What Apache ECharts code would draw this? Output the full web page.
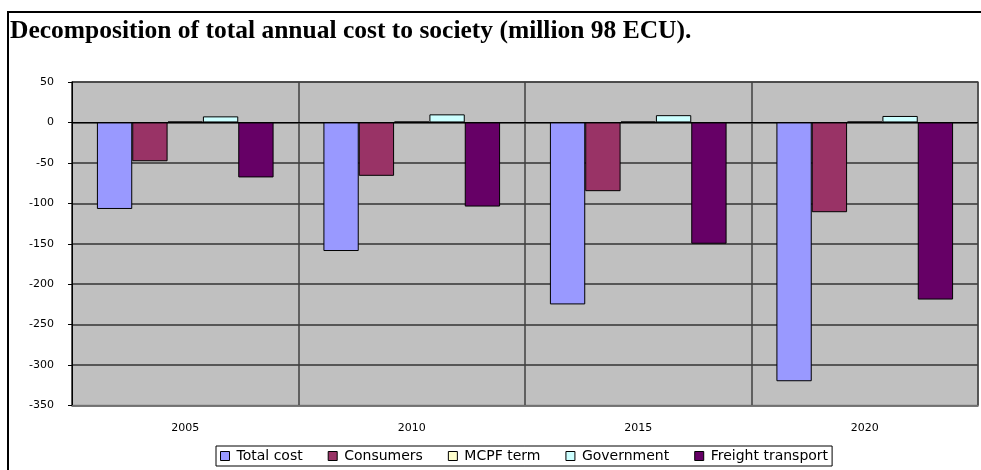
<!DOCTYPE html>
<html>
<head>
<meta charset="utf-8">
<script src="https://cdn.jsdelivr.net/npm/echarts@6/dist/echarts.min.js"></script>
<style>
  html, body { margin: 0; padding: 0; background: #ffffff; }
  #chart { width: 981px; height: 470px; }
</style>
</head>
<body>
<div id="chart"></div>
<script>
// Years on the category axis
const years = ['2005', '2010', '2015', '2020'];

// Components of the annual cost to society, million 98 ECU
const totalCost = [-107, -159, -225, -320];
const consumers = [-48, -66, -85, -111];
const mcpfTerm = [1, 1, 1, 1];
const government = [7.5, 10, 9, 8];
const freightTransport = [-68, -104, -150, -219];

// Value axis range
const yMin = -350;
const yMax = 50;
const yStep = 50;

const seriesDefs = [
  { name: 'Total cost', data: totalCost, color: '#9999ff' },
  { name: 'Consumers', data: consumers, color: '#993366' },
  { name: 'MCPF term', data: mcpfTerm, color: '#ffffcc' },
  { name: 'Government', data: government, color: '#ccffff' },
  { name: 'Freight transport', data: freightTransport, color: '#660066' }
];

const axisFont = 'DejaVu Sans, sans-serif';

const chart = echarts.init(document.getElementById('chart'), null, { renderer: 'canvas' });

const series = seriesDefs.map((s, i) => {
  const def = {
    name: s.name,
    type: 'bar',
    data: s.data,
    barGap: '0%',
    barCategoryGap: '22%',
    itemStyle: { color: s.color, borderColor: '#000000', borderWidth: 1 },
    emphasis: { disabled: true },
    animation: false
  };
  if (i === 0) {
    // black zero line across the plot
    def.markLine = {
      silent: true,
      symbol: 'none',
      label: { show: false },
      lineStyle: { color: '#000000', width: 1, type: 'solid' },
      data: [{ yAxis: 0 }]
    };
  }
  return def;
});

chart.setOption({
  animation: false,
  backgroundColor: '#ffffff',
  graphic: [{
    type: 'rect',
    shape: { x: 8, y: 12, width: 1200, height: 700 },
    style: { fill: 'none', stroke: '#000000', lineWidth: 2 },
    silent: true,
    z: 100
  }],
  title: {
    text: 'Decomposition of total annual cost to society (million 98 ECU).',
    left: 10,
    top: 18,
    padding: 0,
    textStyle: {
      fontFamily: 'Liberation Serif, serif',
      fontWeight: 'bold',
      fontSize: 25.5,
      color: '#000000'
    }
  },
  legend: {
    left: 216,
    top: 446,
    width: 760,
    orient: 'horizontal',
    itemWidth: 9,
    itemHeight: 9,
    itemGap: 25,
    padding: [3, 4, 3, 4],
    borderColor: '#000000',
    borderWidth: 1,
    icon: 'rect',
    itemStyle: { borderColor: '#000000', borderWidth: 1 },
    textStyle: {
      fontFamily: axisFont,
      fontSize: 14,
      color: '#000000',
      padding: [6, 0, 0, 2]
    },
    data: seriesDefs.map(s => s.name)
  },
  grid: {
    left: 72,
    right: 3,
    top: 82,
    bottom: 64.5,
    show: true,
    backgroundColor: '#c0c0c0',
    borderColor: '#808080',
    borderWidth: 1.5,
    containLabel: false
  },
  xAxis: {
    type: 'category',
    data: years,
    boundaryGap: true,
    axisLine: { show: true, onZero: false, lineStyle: { color: '#808080', width: 1.5 } },
    axisTick: { show: false },
    axisLabel: { color: '#000000', fontFamily: axisFont, fontSize: 11, margin: 17 },
    splitLine: { show: true, interval: 0, lineStyle: { color: '#404040', width: 1.5 } }
  },
  yAxis: {
    type: 'value',
    min: yMin,
    max: yMax,
    interval: yStep,
    axisLine: { show: true, lineStyle: { color: '#000000', width: 1 } },
    axisTick: { show: true, inside: false, length: 4, lineStyle: { color: '#000000' } },
    axisLabel: { color: '#000000', fontFamily: axisFont, fontSize: 11, margin: 18 },
    splitLine: { show: true, lineStyle: { color: '#333333', width: 1.5 } }
  },
  series: series
});
</script>
</body>
</html>
